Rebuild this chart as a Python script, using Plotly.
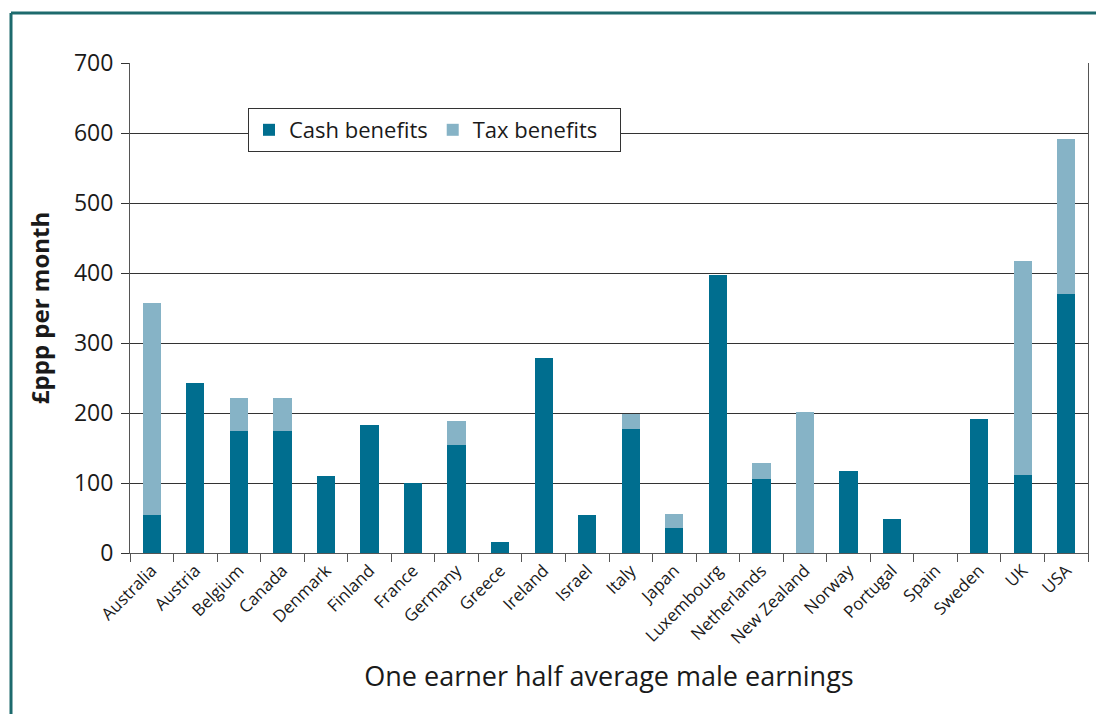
import plotly.graph_objects as go

countries = ["Australia", "Austria", "Belgium", "Canada", "Denmark", "Finland", "France",
             "Germany", "Greece", "Ireland", "Israel", "Italy", "Japan", "Luxembourg",
             "Netherlands", "New Zealand", "Norway", "Portugal", "Spain", "Sweden", "UK", "USA"]
cash_benefits = [55, 243, 174, 174, 110, 183, 100, 154, 16, 279, 54, 177, 36, 397,
                 106, 0, 117, 49, 0, 191, 111, 370]
tax_benefits = [302, 0, 47, 47, 0, 0, 0, 35, 0, 0, 0, 21, 20, 0,
                23, 201, 0, 0, 0, 0, 306, 221]
y_ticks = [0, 100, 200, 300, 400, 500, 600, 700]

FONT = "Open Sans"
OFF = 8  # page body margin
W, H = 1104 - 2 * OFF, 722 - 2 * OFF
# plot area in page pixels: x 130..1088, y 63..553
L, T = 130 - OFF, 63 - OFF
R = (W + OFF) - 1088
B = (H + OFF) - 553
pw, ph = W - L - R, H - T - B

fig = go.Figure()
fig.add_trace(go.Bar(x=countries, y=cash_benefits, name="Cash benefits",
                     marker=dict(color="#006e8f", line=dict(width=0)), width=0.42))
fig.add_trace(go.Bar(x=countries, y=tax_benefits, name="Tax benefits\u00a0\u00a0\u00a0",
                     marker=dict(color="#86b3c6", line=dict(width=0)), width=0.42))

fig.update_layout(
    width=W, height=H,
    margin=dict(l=L, r=R, t=T, b=B, autoexpand=False),
    barmode="stack",
    paper_bgcolor="white", plot_bgcolor="white",
    font=dict(family=FONT, color="#1a1a1a"),
    legend=dict(orientation="h", x=(248 - 130) / pw, y=1 - (108 - 63) / ph,
                xanchor="left", yanchor="top",
                bgcolor="white", bordercolor="#333333", borderwidth=1,
                font=dict(size=22, family=FONT), itemwidth=30,
                traceorder="normal"),
    showlegend=True,
)
fig.update_xaxes(
    automargin=False,
    tickangle=-45, tickfont=dict(size=17, family=FONT),
    ticks="outside", ticklen=8, tickcolor="#555555", tickson="boundaries",
    showline=True, linecolor="#555555", linewidth=1, mirror=False,
    showgrid=False,
    title=dict(text="One earner half average male earnings", font=dict(size=27, family=FONT),
               standoff=19),
)
fig.update_yaxes(
    automargin=False,
    range=[0, 700], tickvals=y_ticks, tickfont=dict(size=23, family=FONT),
    ticks="outside", ticklen=8, tickcolor="#333333", ticklabelstandoff=3,
    showline=True, linecolor="#555555", linewidth=1, mirror=True,
    showgrid=True, gridcolor="#333333", gridwidth=1, zeroline=False,
    title=dict(text="<b>£ppp per month</b>", font=dict(size=24, family=FONT), standoff=17),
)

# outer frame (top and left edges visible in the reference)
fx0 = (11 - 130) / pw
fx1 = (1130 - 130) / pw
fy_top = 1 + (63 - 13) / ph
fy_bot = -(760 - 553) / ph
frame = dict(color="#1d6a6d", width=3)
fig.add_shape(type="line", xref="paper", yref="paper", x0=fx0, x1=fx1, y0=fy_top, y1=fy_top,
              line=frame, layer="below")
fig.add_shape(type="line", xref="paper", yref="paper", x0=fx0, x1=fx0, y0=fy_top, y1=fy_bot,
              line=frame, layer="below")

fig.write_html("out.html")
